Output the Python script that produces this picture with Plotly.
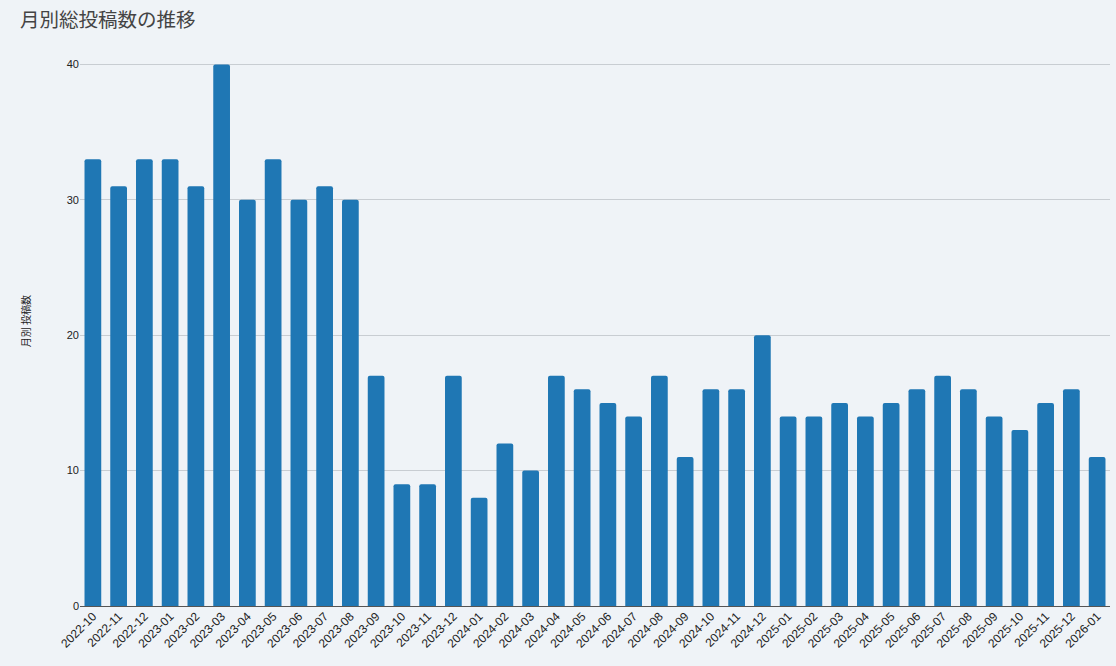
import plotly.graph_objects as go

months = [
    "2022-10", "2022-11", "2022-12", "2023-01", "2023-02", "2023-03", "2023-04", "2023-05",
    "2023-06", "2023-07", "2023-08", "2023-09", "2023-10", "2023-11", "2023-12", "2024-01",
    "2024-02", "2024-03", "2024-04", "2024-05", "2024-06", "2024-07", "2024-08", "2024-09",
    "2024-10", "2024-11", "2024-12", "2025-01", "2025-02", "2025-03", "2025-04", "2025-05",
    "2025-06", "2025-07", "2025-08", "2025-09", "2025-10", "2025-11", "2025-12", "2026-01",
]
posts = [
    33, 31, 33, 33, 31, 40, 30, 33,
    30, 31, 30, 17, 9, 9, 17, 8,
    12, 10, 17, 16, 15, 14, 17, 11,
    16, 16, 20, 14, 14, 15, 14, 15,
    16, 17, 16, 14, 13, 15, 16, 11,
]
y_ticks = [0, 10, 20, 30, 40]

FONT = "Liberation Sans, Arial, Noto Sans CJK JP, sans-serif"
JP = "Noto Sans CJK JP, sans-serif"
BG = "#eff3f7"

fig = go.Figure(
    go.Bar(
        x=months,
        y=posts,
        marker=dict(color="#1f77b4", line=dict(width=0), cornerradius=2),
        hovertemplate="%{x}: %{y}<extra></extra>",
    )
)

fig.update_layout(
    width=1116,
    height=666,
    paper_bgcolor=BG,
    plot_bgcolor=BG,
    font=dict(family=FONT, color="#222", size=12),
    title=dict(
        text="月別総投稿数の推移",
        x=0.018,
        xanchor="left",
        y=0.97,
        yanchor="middle",
        font=dict(family=JP, size=19.5, color="#444"),
    ),
    margin=dict(l=80, r=6, t=36, b=60),
    bargap=0.35,
    showlegend=False,
    annotations=[
        dict(
            text="月",
            x=0.5,
            xref="paper",
            y=0,
            yref="paper",
            yanchor="top",
            yshift=-55,
            showarrow=False,
            font=dict(family=JP, size=11, color="#222"),
        )
    ],
)

fig.update_xaxes(
    type="category",
    tickangle=-45,
    tickfont=dict(size=12, color="#222"),
    showgrid=False,
    showline=False,
    ticks="",
    automargin=False,
)

fig.update_yaxes(
    range=[0, 42.1],
    tickvals=y_ticks,
    tickfont=dict(size=11, color="#222"),
    showgrid=True,
    gridcolor="#c8cdd2",
    gridwidth=1,
    zeroline=True,
    zerolinecolor="#555",
    zerolinewidth=1,
    ticks="",
    ticklen=0,
    automargin=False,
    title=dict(text="月別 投稿数", font=dict(family=JP, size=10, color="#222"), standoff=34),
)

fig.write_html(
    "out.html",
    config={"displayModeBar": False},
    post_script="document.body.style.margin='0';document.body.style.background='%s';" % BG,
)
